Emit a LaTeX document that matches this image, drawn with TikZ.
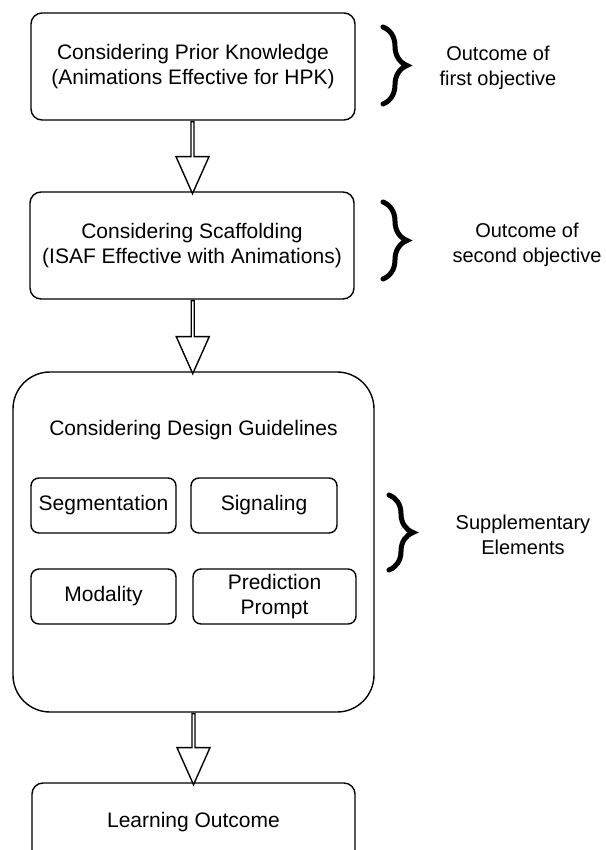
\documentclass[tikz,border=0pt]{standalone}
\usepackage{fontspec}
\setmainfont{Liberation Sans}
\usetikzlibrary{shapes.arrows, decorations.pathreplacing}
\tikzset{
	stagebox/.style={draw, line width=1.4pt, rounded corners=11pt,
		minimum width=324pt, minimum height=107pt, align=center,
		inner sep=2pt, font=\fontsize{21}{25}\selectfont},
	elembox/.style={draw, line width=1.4pt, rounded corners=8pt,
		minimum width=145pt, minimum height=55pt, align=center,
		inner sep=1pt, font=\fontsize{21}{25}\selectfont},
	guidebox/.style={draw, line width=1.4pt, rounded corners=37pt,
		minimum width=361pt, minimum height=340pt},
	flowarr/.style={draw, single arrow, line width=1.4pt, fill=white,
		shape border rotate=270, minimum height=72pt, minimum width=33pt,
		single arrow head extend=7pt, single arrow tip angle=48, inner sep=0pt},
	sidebrace/.style={decorate, decoration={brace, amplitude=24pt},
		line width=5pt, line cap=round},
	sidenote/.style={align=center, font=\fontsize{20}{25}\selectfont},
}

\begin{document}
\begin{tikzpicture}[x=1pt, y=-1pt]
	\clip (0,0) rectangle (605,850);
	\fill[white] (0,0) rectangle (605,850);

	% main flow
	\node[stagebox] (prior) at (193,66.5) {Considering Prior Knowledge\\(Animations Effective for HPK)};
	\node[stagebox] (scaff) at (192,245.5) {Considering Scaffolding\\(ISAF Effective with Animations)};
	\node[guidebox] (guide) at (193.5,542) {};
	\node[font=\fontsize{21}{25}\selectfont] (guidetitle) at (193.5,430) {Considering Design Guidelines};
	\node[elembox] (seg) at (103.5,505.5) {Segmentation};
	\node[elembox, minimum width=146pt] (sig) at (264,505.5) {Signaling};
	\node[elembox] (mod) at (103.5,596.5) {Modality};
	\node[elembox, minimum width=163pt] (pred) at (274.5,596.5) {Prediction\\Prompt};
	\node[stagebox, minimum width=323pt, minimum height=78pt] (learn) at (193.5,822) {Learning Outcome};

	% hollow arrows
	\path (prior.south) -- node[flowarr] (arrA) {} (scaff.north);
	\path (scaff.south) -- node[flowarr, minimum height=73pt] (arrB) {} (guide.north);
	\path (guide.south) -- node[flowarr, minimum height=71pt] (arrC) {} (learn.north);

	% braces and notes
	\coordinate (braceAtop) at (383,27);
	\coordinate (braceAbot) at (383,104);
	\coordinate (braceBtop) at (383,202);
	\coordinate (braceBbot) at (383,279);
	\coordinate (braceCtop) at (389,495);
	\coordinate (braceCbot) at (389,570);
	\draw[sidebrace] (braceAtop) -- (braceAbot);
	\draw[sidebrace] (braceBtop) -- (braceBbot);
	\draw[sidebrace] (braceCtop) -- (braceCbot);
	\node[sidenote] (noteA) at (498,67.5) {Outcome of\\first objective};
	\node[sidenote] (noteB) at (527,245) {Outcome of\\second objective};
	\node[sidenote] (noteC) at (523,534.5) {Supplementary\\Elements};
\end{tikzpicture}
\end{document}
